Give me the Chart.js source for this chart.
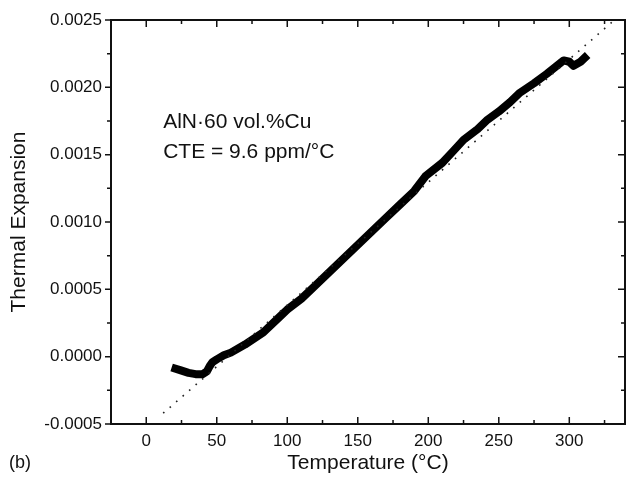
<!DOCTYPE html>
<html><head><meta charset="utf-8">
<script src="https://cdn.jsdelivr.net/npm/chart.js@4.4.1/dist/chart.umd.min.js"></script>
<style>html,body{margin:0;padding:0;background:#fff;} #wrap{width:626px;height:482px;position:relative;}</style>
</head><body><div id="wrap"><canvas id="c" width="626" height="482"></canvas></div>
<script>
const temperature = [18,24,30,35,40,43,45,47,50,55,60,70,83,95,100,110,120,130,140,150,160,170,180,190,198,210,218,225,235,242,250,258,265,275,284,290,296,300,303,308,313];
const expansion = [-0.00008,-0.00010,-0.00012,-0.00013,-0.00013,-0.00011,-0.00007,-0.00004,-0.00002,0.00001,0.00003,0.00009,0.00018,0.00030,0.00035,0.00043,0.00053,0.00063,0.00073,0.00083,0.00093,0.00103,0.00113,0.00123,0.00134,0.00144,0.00153,0.00161,0.00169,0.00176,0.00182,0.00189,0.00196,0.00203,0.00210,0.00215,0.00220,0.00219,0.00216,0.00219,0.00224];
const fitTemperature = [12, 332];
const fitExpansion = [-0.00042, 0.0025];
const xTickValues = [0,50,100,150,200,250,300];
const xMinorValues = [-25,25,75,125,175,225,275,325];
const yTickValues = [-0.0005,0,0.0005,0.001,0.0015,0.002,0.0025];
const yMinorValues = [-0.00025,0.00025,0.00075,0.00125,0.00175,0.00225];
const annotationLines = ['AlN·60 vol.%Cu','CTE = 9.6 ppm/°C'];
const annotationT = 12;
const annotationE = [0.00174, 0.00152];
const panelLabel = '(b)';

const FONT = '"Liberation Sans", Arial, Helvetica, sans-serif';
const INK = '#111';

const framePlugin = {
  id: 'frame',
  afterDatasetsDraw(chart) {
    const {ctx, chartArea: a, scales: {x, y}} = chart;
    ctx.save();
    ctx.strokeStyle = INK;
    ctx.lineWidth = 2;
    ctx.strokeRect(a.left, a.top, a.right - a.left, a.bottom - a.top);
    ctx.lineWidth = 1.5;
    ctx.beginPath();
    xTickValues.forEach(v => { const p = x.getPixelForValue(v);
      ctx.moveTo(p, a.bottom); ctx.lineTo(p, a.bottom - 7);
      ctx.moveTo(p, a.top); ctx.lineTo(p, a.top + 7); });
    xMinorValues.forEach(v => { const p = x.getPixelForValue(v);
      if (p <= a.left || p >= a.right) return;
      ctx.moveTo(p, a.bottom); ctx.lineTo(p, a.bottom - 4);
      ctx.moveTo(p, a.top); ctx.lineTo(p, a.top + 4); });
    yTickValues.forEach(v => { const p = y.getPixelForValue(v);
      ctx.moveTo(a.left, p); ctx.lineTo(a.left - 6, p);
      ctx.moveTo(a.right, p); ctx.lineTo(a.right - 7, p); });
    yMinorValues.forEach(v => { const p = y.getPixelForValue(v);
      ctx.moveTo(a.left, p); ctx.lineTo(a.left - 4, p);
      ctx.moveTo(a.right, p); ctx.lineTo(a.right - 4, p); });
    ctx.stroke();
    ctx.fillStyle = INK;
    ctx.font = '21px ' + FONT;
    ctx.textBaseline = 'middle';
    ctx.textAlign = 'left';
    annotationLines.forEach((s, i) => ctx.fillText(s, x.getPixelForValue(annotationT), y.getPixelForValue(annotationE[i])));
    ctx.font = '18px ' + FONT;
    ctx.fillText(panelLabel, 9, 463);
    ctx.restore();
  }
};

new Chart(document.getElementById('c'), {
  type: 'scatter',
  data: {
    datasets: [
      { data: fitTemperature.map((t, i) => ({x: t, y: fitExpansion[i]})), showLine: true,
        borderColor: '#222', borderWidth: 1.6, borderDash: [1.6, 7], pointRadius: 0, tension: 0 },
      { data: temperature.map((t, i) => ({x: t, y: expansion[i]})), showLine: true,
        borderColor: '#000', borderWidth: 8, pointRadius: 0, tension: 0,
        borderJoinStyle: 'round', borderCapStyle: 'butt' }
    ]
  },
  options: {
    responsive: false,
    animation: false,
    layout: { padding: { top: 20, right: 1, left: 0, bottom: 0 } },
    plugins: { legend: { display: false }, tooltip: { enabled: false } },
    scales: {
      x: {
        type: 'linear', min: -25, max: 339.5,
        grid: { display: false, drawTicks: false }, border: { display: false },
        ticks: { color: INK, font: { family: FONT, size: 17 }, padding: 7, maxRotation: 0 },
        title: { display: true, text: 'Temperature (°C)', color: INK, font: { family: FONT, size: 21 }, padding: { top: 0, bottom: 6 } },
        afterBuildTicks(s) { s.ticks = xTickValues.map(v => ({value: v})); },
        afterFit(s) { s.height = 58; }
      },
      y: {
        type: 'linear', min: -0.0005, max: 0.0025,
        grid: { display: false, drawTicks: false }, border: { display: false },
        ticks: { color: INK, font: { family: FONT, size: 17 }, padding: 9, callback: v => Number(v).toFixed(4) },
        title: { display: true, text: 'Thermal Expansion', color: INK, font: { family: FONT, size: 21 }, padding: { top: 7, bottom: 0 } },
        afterBuildTicks(s) { s.ticks = yTickValues.map(v => ({value: v})); },
        afterFit(s) { s.width = 111; }
      }
    }
  },
  plugins: [framePlugin]
});
</script></body></html>
